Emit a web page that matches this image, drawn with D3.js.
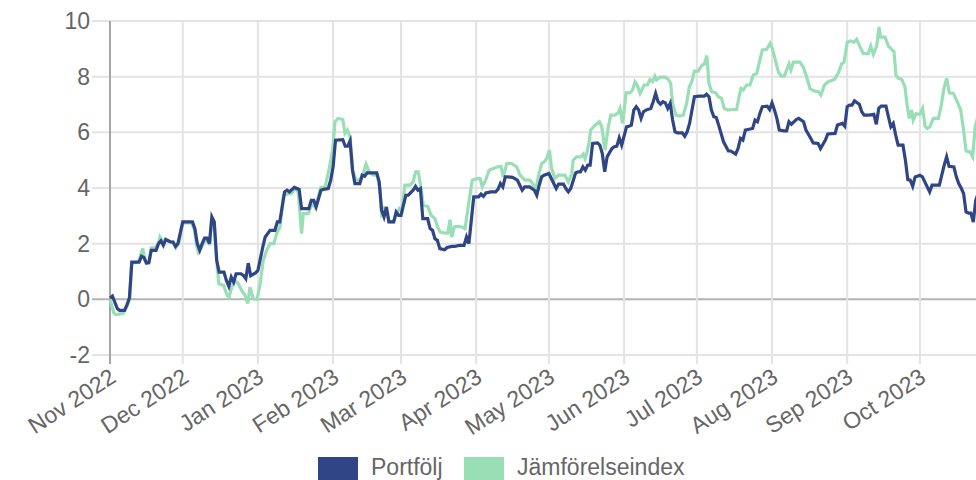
<!DOCTYPE html>
<html>
<head>
<meta charset="utf-8">
<script src="https://cdn.jsdelivr.net/npm/d3@7"></script>
<style>
  body { margin: 0; background: #fff; }
  svg text { font-family: "Liberation Sans", Arial, sans-serif; fill: #666; }
</style>
</head>
<body>
<div id="chart"></div>
<script>
var svgWidth = 976;
var svgHeight = 480;

// plot box: y from 21 (10 %) to 355 (-2 %), x from 110 (1 Nov)
var margin = { top: 21, left: 110, bottom: 355 };
var pxPerDay = 2.425;

var startDate = new Date(2022, 10, 1);
var endDate = new Date(2023, 9, 31);

var seriesNames = ["Portfölj", "Jämförelseindex"];
var seriesColors = ["#2f4586", "#98dfb5"];
var yTicks = [-2, 0, 2, 4, 6, 8, 10];

// days after 1 Nov 2022 / return in %
var portfolioDays = [0, 1, 3, 4, 6, 7, 8, 9, 12, 13, 14, 15, 16, 17, 19, 20, 21, 22, 23, 25, 26, 27, 28, 30, 34, 35, 36, 37, 38, 39, 40, 41, 42, 43, 44, 45, 47, 48, 49, 50, 51, 52, 54, 55, 56, 57, 58, 60, 61, 63, 64, 66, 68, 69, 70, 72, 73, 74, 76, 78, 79, 82, 83, 84, 85, 87, 88, 90, 91, 92, 93, 96, 97, 98, 99, 100, 101, 103, 104, 105, 106, 110, 111, 112, 113, 114, 115, 117, 118, 119, 120, 122, 123, 125, 126, 127, 128, 129, 131, 132, 133, 134, 135, 136, 138, 139, 141, 142, 144, 146, 147, 148, 149, 150, 152, 153, 154, 155, 157, 159, 160, 161, 162, 163, 164, 166, 168, 169, 170, 171, 173, 175, 176, 177, 178, 179, 181, 182, 184, 185, 187, 188, 189, 190, 192, 193, 194, 195, 196, 197, 198, 199, 201, 202, 203, 204, 205, 207, 208, 209, 210, 211, 213, 214, 215, 216, 217, 218, 219, 220, 221, 223, 224, 225, 226, 227, 228, 229, 230, 231, 232, 233, 234, 236, 237, 238, 239, 240, 241, 243, 245, 246, 247, 248, 249, 250, 251, 252, 253, 255, 256, 258, 259, 260, 261, 262, 263, 265, 266, 267, 268, 269, 271, 272, 273, 274, 275, 276, 278, 279, 280, 281, 283, 284, 286, 287, 289, 290, 292, 293, 295, 296, 299, 300, 302, 303, 304, 305, 306, 307, 309, 310, 311, 313, 315, 316, 317, 318, 320, 321, 322, 323, 324, 325, 327, 328, 329, 330, 331, 332, 334, 335, 337, 338, 339, 342, 343, 344, 345, 346, 348, 349, 350, 351, 352, 353, 354, 355, 356, 357, 358];
var portfolioValues = [0.05, 0.12, -0.33, -0.4, -0.4, -0.2, 0.05, 1.34, 1.34, 1.55, 1.5, 1.3, 1.31, 1.76, 1.76, 2.0, 2.1, 1.94, 2.15, 2.06, 2.06, 1.9, 2.0, 2.78, 2.78, 2.54, 2.0, 1.76, 2.0, 2.2, 2.2, 2.0, 2.96, 2.78, 1.4, 0.98, 0.98, 0.68, 0.47, 0.8, 0.62, 0.92, 0.92, 0.86, 0.74, 1.3, 0.85, 0.95, 1.04, 1.88, 2.24, 2.48, 2.48, 2.78, 2.78, 3.86, 3.92, 3.86, 4.02, 3.95, 3.26, 3.26, 3.56, 3.56, 3.32, 3.92, 3.95, 3.98, 4.28, 4.76, 5.72, 5.74, 5.5, 5.5, 5.69, 4.64, 4.16, 4.16, 4.46, 4.42, 4.54, 4.54, 4.22, 3.2, 2.96, 3.32, 2.78, 2.78, 3.14, 3.02, 3.02, 3.74, 3.74, 3.92, 4.06, 3.92, 3.98, 2.9, 2.9, 2.54, 2.48, 2.18, 2.12, 1.82, 1.78, 1.86, 1.9, 1.9, 1.94, 1.94, 2.24, 2.0, 2.84, 3.68, 3.68, 3.78, 3.7, 3.82, 3.86, 3.86, 3.95, 4.16, 4.04, 4.4, 4.4, 4.38, 4.28, 4.1, 3.92, 4.04, 4.04, 3.92, 3.74, 4.1, 4.4, 4.46, 4.52, 4.34, 3.98, 4.14, 4.14, 3.98, 3.86, 3.98, 4.54, 4.58, 4.58, 4.76, 4.64, 4.82, 4.82, 5.6, 5.62, 5.54, 5.24, 4.58, 5.12, 5.42, 5.48, 5.5, 5.8, 5.54, 6.2, 6.22, 6.26, 6.8, 6.92, 6.8, 6.5, 6.74, 6.8, 6.86, 7.1, 7.4, 7.1, 7.01, 7.1, 7.06, 6.86, 7.04, 6.44, 6.02, 5.98, 5.98, 5.86, 6.02, 6.32, 6.8, 7.28, 7.3, 7.3, 7.37, 7.28, 6.8, 6.56, 6.53, 6.26, 5.96, 5.66, 5.33, 5.33, 5.22, 5.42, 5.78, 5.72, 6.08, 6.1, 6.14, 6.44, 6.38, 6.68, 6.92, 6.94, 6.82, 7.06, 6.8, 6.5, 6.08, 6.05, 6.05, 6.38, 6.29, 6.46, 6.5, 6.38, 6.08, 5.78, 5.62, 5.6, 5.42, 5.72, 5.94, 5.96, 6.26, 6.32, 6.22, 6.92, 6.98, 6.98, 7.13, 7.01, 6.74, 6.62, 6.62, 6.65, 6.29, 6.86, 6.94, 6.94, 6.56, 6.2, 6.32, 5.9, 5.54, 5.54, 5.0, 4.3, 4.28, 4.06, 4.4, 4.46, 4.4, 4.04, 3.86, 4.1, 4.1, 4.46, 4.82, 5.12, 4.78, 4.76, 4.4, 4.16, 4.0, 3.8, 3.14, 3.1, 3.1, 2.78, 3.56, 3.8];

var indexDays = [0, 1.6, 2.5, 5.5, 7.5, 8.2, 8.9, 11.7, 13.5, 14.2, 15.1, 16.2, 17, 18.6, 19.9, 20.6, 22, 22.7, 24.7, 26.1, 27.1, 28.5, 29.6, 30.2, 33.7, 34.8, 35.8, 36.4, 37.5, 39.1, 40.5, 41.2, 41.9, 43, 44.2, 44.9, 46.9, 48.3, 49.1, 50.2, 51.5, 52.9, 54.3, 55.7, 56.8, 57.7, 59.1, 60.7, 61.9, 63.2, 64.6, 66, 67.6, 68.7, 70.1, 71.5, 72.9, 74.9, 76.3, 77.6, 79, 79.7, 81.8, 83.2, 84.5, 85.9, 86.9, 88.7, 90.4, 91.8, 92.8, 94.1, 96, 96.9, 97.9, 99, 100.1, 101.4, 103.1, 104.5, 105.6, 106.9, 108.6, 110.2, 111.3, 112, 113, 114.1, 115.2, 116.8, 118.2, 119.3, 120.3, 121.6, 123.7, 125, 126, 127.1, 128.2, 129.2, 131, 132.4, 134, 135.1, 136.1, 137.9, 139.3, 140.2, 140.9, 142, 143.4, 145, 146.4, 147.8, 149.4, 151.2, 152.6, 153.5, 154.9, 156.3, 158.1, 159.9, 161.2, 162.2, 163.6, 165.6, 167.7, 169.1, 171.1, 173.2, 174.6, 175.5, 176.9, 178, 179.1, 180.1, 181.2, 182.1, 183.5, 184.9, 187.6, 189, 190.4, 191, 192.4, 194.1, 195.2, 195.9, 196.6, 197.6, 198.2, 200, 201.8, 202.8, 204.1, 205.5, 206.5, 208.2, 209.6, 210.3, 211.4, 212.8, 214.4, 215.5, 216.5, 217.4, 218.6, 219.3, 220.2, 221.6, 222.7, 223.8, 224.7, 225.4, 226.8, 228.9, 230.2, 231.2, 232, 233.4, 235.1, 236.4, 237.8, 238.9, 239.9, 241, 242.6, 244, 245.1, 246.1, 247, 248.1, 249.8, 250.8, 252.2, 253.3, 254.7, 257, 258.4, 259.4, 260.2, 261.2, 262.5, 263.9, 265.3, 266.7, 268, 269, 270.8, 272.2, 273.1, 274.2, 275.6, 276.7, 278.1, 279, 280, 280.8, 281.8, 284.5, 285.9, 287.3, 288.7, 290.7, 292.1, 293.2, 294.6, 296.2, 298.7, 300.3, 301.7, 302.7, 304, 305.4, 306.8, 307.9, 309.3, 310.6, 312.7, 313.7, 314.8, 316.2, 317.1, 317.8, 319.6, 321, 322.3, 323.3, 324.1, 325.1, 326.5, 327.8, 328.8, 329.6, 330.6, 331.2, 332.4, 334, 335.1, 336.1, 337, 338.1, 339.5, 341.6, 342.7, 343.9, 345, 346.1, 347.8, 349.4, 350.8, 351.9, 353, 354.6, 355.7, 356.8, 358];
var indexValues = [0.0, -0.5, -0.55, -0.5, -0.15, 0.05, 1.3, 1.34, 1.83, 1.5, 1.3, 1.35, 1.85, 1.85, 2.0, 2.24, 2.0, 2.15, 2.06, 2.06, 1.85, 2.05, 2.6, 2.75, 2.75, 2.5, 1.9, 1.7, 1.85, 2.1, 2.1, 1.95, 2.85, 2.6, 1.2, 0.56, 0.5, 0.14, 0.08, 0.44, 0.68, 0.56, 0.32, 0.14, -0.15, 0.44, 0.02, 0.0, 0.56, 1.4, 1.76, 2.0, 2.0, 2.36, 2.6, 3.74, 3.78, 3.8, 4.0, 3.86, 2.36, 3.08, 3.08, 3.44, 3.3, 3.68, 4.02, 4.04, 4.7, 5.36, 6.38, 6.5, 6.46, 5.96, 6.08, 5.84, 4.64, 4.28, 4.28, 4.54, 4.86, 4.58, 4.46, 4.46, 3.98, 3.08, 3.26, 3.08, 2.78, 2.78, 3.08, 3.26, 3.15, 4.1, 4.1, 4.22, 4.58, 4.58, 4.04, 3.38, 3.34, 3.02, 2.9, 2.6, 2.42, 2.38, 2.38, 2.86, 2.24, 2.6, 2.62, 2.6, 2.54, 3.38, 4.28, 4.34, 4.34, 4.04, 4.28, 4.64, 4.7, 4.76, 4.78, 4.4, 4.88, 4.88, 4.76, 4.46, 4.28, 4.28, 4.1, 3.92, 4.52, 4.88, 4.94, 5.06, 5.36, 4.7, 4.34, 4.46, 4.46, 4.22, 4.52, 5.0, 5.12, 5.12, 5.22, 5.06, 5.24, 5.66, 6.08, 6.26, 6.38, 6.2, 5.36, 6.2, 6.62, 6.62, 6.7, 6.86, 6.32, 7.42, 7.42, 7.52, 7.82, 7.7, 7.4, 7.52, 7.7, 7.7, 7.9, 7.82, 8.02, 7.88, 7.98, 7.98, 7.9, 7.76, 7.04, 6.62, 6.58, 6.62, 7.04, 7.64, 7.82, 8.2, 8.2, 8.4, 8.46, 8.76, 7.76, 7.46, 7.42, 7.28, 7.22, 6.86, 6.8, 6.82, 6.82, 7.28, 7.58, 7.52, 7.7, 7.7, 8.06, 8.12, 8.6, 8.96, 8.98, 9.19, 9.02, 8.66, 8.18, 8.02, 8.02, 8.24, 8.46, 8.24, 8.52, 8.52, 8.34, 7.98, 7.56, 7.48, 7.46, 7.34, 7.7, 7.82, 7.9, 8.12, 8.46, 8.52, 9.24, 9.28, 9.24, 9.34, 9.07, 8.83, 8.83, 9.1, 8.8, 9.12, 9.78, 9.42, 9.42, 9.1, 8.98, 8.9, 8.06, 7.94, 7.9, 7.64, 6.92, 6.5, 6.8, 6.44, 6.67, 6.65, 6.86, 6.22, 6.14, 6.2, 6.5, 6.5, 6.92, 7.58, 7.94, 7.42, 7.4, 7.1, 6.8, 6.14, 5.33, 5.3, 5.12, 6.2, 6.6];

function toDate(d) {
  return new Date(startDate.getTime() + d * 864e5);
}

var series = [
  { name: seriesNames[0], color: seriesColors[0],
    points: portfolioDays.map((d, i) => ({ date: toDate(d), value: portfolioValues[i] })) },
  { name: seriesNames[1], color: seriesColors[1],
    points: indexDays.map((d, i) => ({ date: toDate(d), value: indexValues[i] })) }
];

var svg = d3.select("#chart")
  .append("svg")
  .attr("width", svgWidth)
  .attr("height", svgHeight);

var x = d3.scaleTime()
  .domain([startDate, endDate])
  .range([margin.left, margin.left + d3.timeDay.count(startDate, endDate) * pxPerDay]);

var y = d3.scaleLinear()
  .domain([-2, 10])
  .range([margin.bottom, margin.top]);

var months = d3.timeMonth.range(startDate, endDate);

// horizontal grid + tick marks
svg.append("g").selectAll("line")
  .data(yTicks)
  .enter()
  .append("line")
  .attr("x1", margin.left - 18)
  .attr("x2", svgWidth)
  .attr("y1", d => y(d))
  .attr("y2", d => y(d))
  .attr("stroke", d => d === 0 ? "#b3b3b3" : "#e3e3e3")
  .attr("stroke-width", 2);

// vertical grid
svg.append("g").selectAll("line")
  .data(months.slice(1))
  .enter()
  .append("line")
  .attr("x1", d => x(d))
  .attr("x2", d => x(d))
  .attr("y1", margin.top)
  .attr("y2", margin.bottom + 9)
  .attr("stroke", "#e3e3e3")
  .attr("stroke-width", 2);

// y axis line
svg.append("line")
  .attr("x1", margin.left)
  .attr("x2", margin.left)
  .attr("y1", margin.top)
  .attr("y2", margin.bottom + 9)
  .attr("stroke", "#a6a6a6")
  .attr("stroke-width", 2);

// y labels
svg.append("g").selectAll("text")
  .data(yTicks)
  .enter()
  .append("text")
  .attr("x", margin.left - 20)
  .attr("y", d => y(d))
  .attr("dy", "0.35em")
  .style("text-anchor", "end")
  .style("font-size", "23px")
  .text(d => d);

// x labels, rotated
var fmt = d3.timeFormat("%b %Y");
svg.append("g").selectAll("text")
  .data(months)
  .enter()
  .append("text")
  .attr("transform", d => `translate(${x(d) + 3}, ${margin.bottom + 19}) rotate(-33)`)
  .attr("dy", "0.35em")
  .style("text-anchor", "end")
  .style("font-size", "23px")
  .text(d => fmt(d));

// lines, benchmark first so portfolio sits on top
var line = d3.line()
  .x(d => x(d.date))
  .y(d => y(d.value));

svg.append("g").selectAll("path")
  .data(series.slice().reverse())
  .enter()
  .append("path")
  .attr("d", d => line(d.points))
  .attr("fill", "none")
  .attr("stroke", d => d.color)
  .attr("stroke-width", 3.2)
  .attr("stroke-linejoin", "miter");

// legend
var legendX = [318, 464];
var legend = svg.append("g").selectAll("g")
  .data(series)
  .enter()
  .append("g")
  .attr("transform", (d, i) => `translate(${legendX[i]}, 457)`);

legend.append("rect")
  .attr("width", 40)
  .attr("height", 23)
  .attr("fill", d => d.color);

legend.append("text")
  .attr("x", 53)
  .attr("y", 10)
  .attr("dy", "0.35em")
  .style("font-size", "23px")
  .text(d => d.name);
</script>
</body>
</html>
